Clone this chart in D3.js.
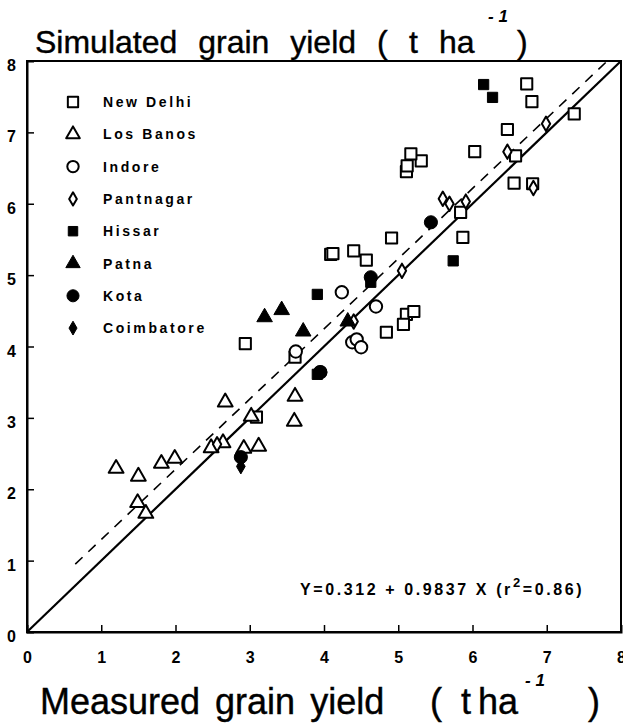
<!DOCTYPE html>
<html><head><meta charset="utf-8">
<script src="https://cdn.jsdelivr.net/npm/d3@7"></script>
<style>body{margin:0;background:#fff;} svg{display:block;}</style>
</head><body>
<svg id="chart" width="623" height="725"></svg>
<script>
// ---- data (measured, simulated) in t/ha ----
const newDelhi = [[6.73,7.68],[6.80,7.43],[7.37,7.26],[6.47,7.04],[6.03,6.73],[5.31,6.60],[6.56,6.29],[6.81,6.28],[5.87,5.53],[5.84,5.88],[5.17,6.70],[5.11,6.45],[5.12,6.53],[4.91,5.52],[4.40,5.34],[4.09,5.29],[4.12,5.30],[4.57,5.21],[5.11,4.45],[5.21,4.49],[5.07,4.31],[4.84,4.20],[2.94,4.04],[3.61,3.85],[3.09,3.01],[6.58,6.67]];
const losBanos = [[1.20,2.29],[1.50,2.18],[1.81,2.36],[1.99,2.43],[1.49,1.81],[1.60,1.66],[2.67,3.22],[3.02,3.02],[3.61,3.30],[3.60,2.95],[2.48,2.58],[2.64,2.65],[2.92,2.57],[3.12,2.60]];
const indore = [[4.24,4.76],[4.70,4.56],[4.38,4.06],[4.44,4.10],[4.50,3.99],[3.95,3.64],[3.62,3.93]];
const pantnagar = [[6.99,7.12],[6.47,6.73],[5.60,6.07],[5.69,6.00],[5.91,6.03],[5.05,5.06],[4.40,4.35],[2.56,2.63],[6.82,6.22]];
const hissar = [[6.15,7.67],[6.27,7.49],[5.74,5.20],[3.91,4.73],[4.63,4.90],[3.91,3.61]];
const patna = [[3.20,4.41],[3.43,4.51],[3.72,4.21],[4.32,4.35]];
const kota = [[5.44,5.74],[4.63,4.97],[3.95,3.64],[2.88,2.45]];
const coimbatore = [[2.88,2.32]];

const siteNames = ["New Delhi","Los Banos","Indore","Pantnagar","Hissar","Patna","Kota","Coimbatore"];
const siteData = [newDelhi, losBanos, indore, pantnagar, hissar, patna, kota, coimbatore];
const xTicks = [0,1,2,3,4,5,6,7,8];
const yTicks = [0,1,2,3,4,5,6,7,8];
const regIntercept = 0.312, regSlope = 0.9837;
const regRange = [0.65, 7.8];
const equationText = "Y=0.312 + 0.9837 X (r";
const r2Text = "=0.86)";

// ---- styles ----
const markers = [
  {type: d3.symbolSquare, size: 125, filled: false},
  {type: d3.symbolTriangle, size: 95, filled: false},
  {type: d3.symbolCircle, size: 120, filled: false},
  {type: d3.symbolDiamond, size: 60, filled: false},
  {type: d3.symbolSquare, size: 105, filled: true},
  {type: d3.symbolTriangle, size: 105, filled: true},
  {type: d3.symbolCircle, size: 135, filled: true},
  {type: d3.symbolDiamond, size: 65, filled: true}
];

const svg = d3.select("#chart");
const x = d3.scaleLinear().domain([0,8]).range([27,621]);
const y = d3.scaleLinear().domain([0,8]).range([632,61]);
const FONT = "'Liberation Sans', Arial, Helvetica, sans-serif";

// frame
svg.append("rect").attr("x", x(0)).attr("y", y(8)).attr("width", x(8)-x(0)).attr("height", y(0)-y(8))
  .attr("fill","none").attr("stroke","#000").attr("stroke-width",2);

// axes (inward ticks)
const xAxis = d3.axisBottom(x).tickValues(xTicks).tickSize(-7).tickPadding(20).tickFormat(d3.format("d"));
const gx = svg.append("g").attr("transform",`translate(0,${y(0)})`).call(xAxis);
const yAxis = d3.axisLeft(y).tickValues(yTicks).tickSize(-7).tickPadding(11).tickFormat(d3.format("d"));
const gy = svg.append("g").attr("transform",`translate(${x(0)},0)`).call(yAxis);
[gx, gy].forEach(g => {
  g.select(".domain").attr("stroke","#000").attr("stroke-width",2);
  g.selectAll(".tick line").attr("stroke","#000").attr("stroke-width",1.5);
  g.selectAll(".tick text").attr("fill","#000").style("font-family",FONT).style("font-weight","bold").style("font-size","16px");
});
gx.selectAll(".tick").filter(d => d===0 || d===8).select("line").remove();
gy.selectAll(".tick").filter(d => d===0 || d===8).select("line").remove();
gy.selectAll(".tick text").attr("dy","0.6em");

// 1:1 line (solid)
svg.append("line").attr("x1", x(0)).attr("y1", y(0)).attr("x2", x(8)).attr("y2", y(8))
  .attr("stroke","#000").attr("stroke-width",2.2);
// regression line (dashed)
svg.append("line")
  .attr("x1", x(regRange[0])).attr("y1", y(regIntercept + regSlope*regRange[0]))
  .attr("x2", x(regRange[1])).attr("y2", y(regIntercept + regSlope*regRange[1]))
  .attr("stroke","#000").attr("stroke-width",1.6).attr("stroke-dasharray","10,8");

// points
siteData.forEach((data, i) => {
  const m = markers[i];
  const sym = d3.symbol().type(m.type).size(m.size);
  svg.append("g").selectAll("path").data(data).join("path")
    .attr("d", sym)
    .attr("transform", d => `translate(${x(d[0])},${y(d[1])})`)
    .attr("fill", m.filled ? "#000" : "#fff")
    .attr("stroke", "#000")
    .attr("stroke-width", m.filled ? 1 : 2)
    .attr("stroke-linejoin","round");
});

// legend
const leg = svg.append("g");
siteNames.forEach((name, i) => {
  const m = markers[i];
  const ly = 102 + i*32.3;
  leg.append("path").attr("d", d3.symbol().type(m.type).size(m.size*0.85)())
    .attr("transform", `translate(73,${ly})`)
    .attr("fill", m.filled ? "#000" : "#fff").attr("stroke","#000")
    .attr("stroke-width", m.filled ? 1 : 2).attr("stroke-linejoin","round");
  leg.append("text").attr("x",103).attr("y",ly+5).text(name)
    .style("font-family",FONT).style("font-weight","bold").style("font-size","14px")
    .style("letter-spacing","2.6px");
});

// equation
const eq = svg.append("text").attr("x",300).attr("y",595)
  .style("font-family",FONT).style("font-weight","bold").style("font-size","16px").style("letter-spacing","2.6px");
eq.append("tspan").text(equationText);
eq.append("tspan").attr("dy",-8).style("font-size","13px").text("2");
eq.append("tspan").attr("dy",8).text(r2Text);

// axis titles
function title(parts, yPos, size, ws, sup, close) {
  const t = svg.append("text").attr("y",yPos)
    .style("font-family",FONT).style("font-size",size+"px")
    .attr("stroke","#000").attr("stroke-width",0.4);
  parts.forEach(p => t.append("tspan").attr("x",p[1]).style("word-spacing",ws+"px").text(p[0]));
  svg.append("text").attr("x",sup[0]).attr("y",sup[1]).text("- 1")
    .style("font-family",FONT).style("font-size","17px").style("font-style","italic").style("font-weight","bold");
  svg.append("text").attr("x",close).attr("y",yPos).text(")")
    .style("font-family",FONT).style("font-size",size+"px").attr("stroke","#000").attr("stroke-width",0.4);
}
title([["Simulated grain yield",35],["(",377],["t",409],["ha",439]], 53, 32, 12, [488,22], 517);
title([["Measured grain yield",40],["(",430],["t",461],["ha",478]], 714, 36, 5, [525,686], 588);
</script>
</body></html>
